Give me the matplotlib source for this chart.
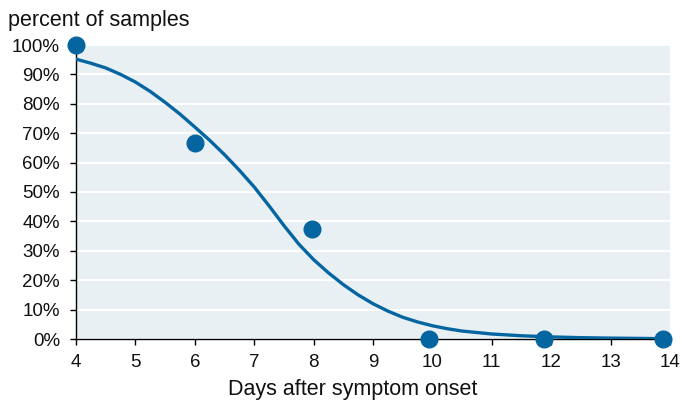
import matplotlib.pyplot as plt
from matplotlib.ticker import FuncFormatter

plt.rcParams['font.family'] = ['Liberation Sans', 'DejaVu Sans']

days = [4, 6, 7.97, 9.94, 11.88, 13.88]
pct = [100, 66.7, 37.5, 0, 0, 0]

# fitted curve, values
fit_days = [4, 4.25, 4.5, 4.75, 5, 5.25, 5.5, 5.75, 6, 6.25, 6.5, 6.75, 7,
            7.25, 7.5, 7.75, 8, 8.25, 8.5, 8.75, 9, 9.25, 9.5, 9.75, 10,
            10.25, 10.5, 11, 11.5, 12, 12.5, 13, 13.5, 14]
fit_pct = [95.2, 93.8, 92.2, 90.0, 87.4, 84.2, 80.5, 76.5, 72.1, 67.6, 62.7,
           57.4, 51.7, 45.3, 38.6, 32.3, 27.0, 22.5, 18.5, 15.0, 12.0, 9.5,
           7.4, 5.8, 4.5, 3.5, 2.7, 1.7, 1.1, 0.7, 0.45, 0.3, 0.2, 0.1]

blue = '#0565a1'

fig = plt.figure(figsize=(6.82, 4.0), dpi=100)
ax = fig.add_axes([76 / 682, 61 / 400, 594 / 682, 294 / 400])
ax.set_facecolor('#e8f0f4')

ax.plot(fit_days, fit_pct, color=blue, linewidth=2.4, zorder=3)
ax.plot(days, pct, 'o', color=blue, markersize=12, zorder=4, clip_on=False)

ax.set_xlim(4, 14)
ax.set_ylim(0, 100)
ax.set_xticks(range(4, 15))
ax.set_yticks(range(0, 101, 10))
ax.yaxis.set_major_formatter(FuncFormatter(lambda v, p: f'{int(v)}%'))
ax.grid(axis='y', color='white', linewidth=1.5)
ax.set_axisbelow(True)

for s in ['top', 'right']:
    ax.spines[s].set_visible(False)
for s in ['left', 'bottom']:
    ax.spines[s].set_color('black')
    ax.spines[s].set_linewidth(1.0)
ax.tick_params(axis='both', length=4.5, width=1, color='black', labelsize=13.5,
               labelcolor='#111111')
ax.tick_params(axis='y', pad=7)
ax.tick_params(axis='x', pad=6)

fig.text(353 / 682, 1 - 395 / 400, 'Days after symptom onset', fontsize=15.5,
         ha='center', va='baseline', color='#111111')
fig.text(8 / 682, 1 - 26 / 400, 'percent of samples', fontsize=15.5,
         ha='left', va='baseline', color='#111111')

fig.savefig('out.png', dpi=100)
